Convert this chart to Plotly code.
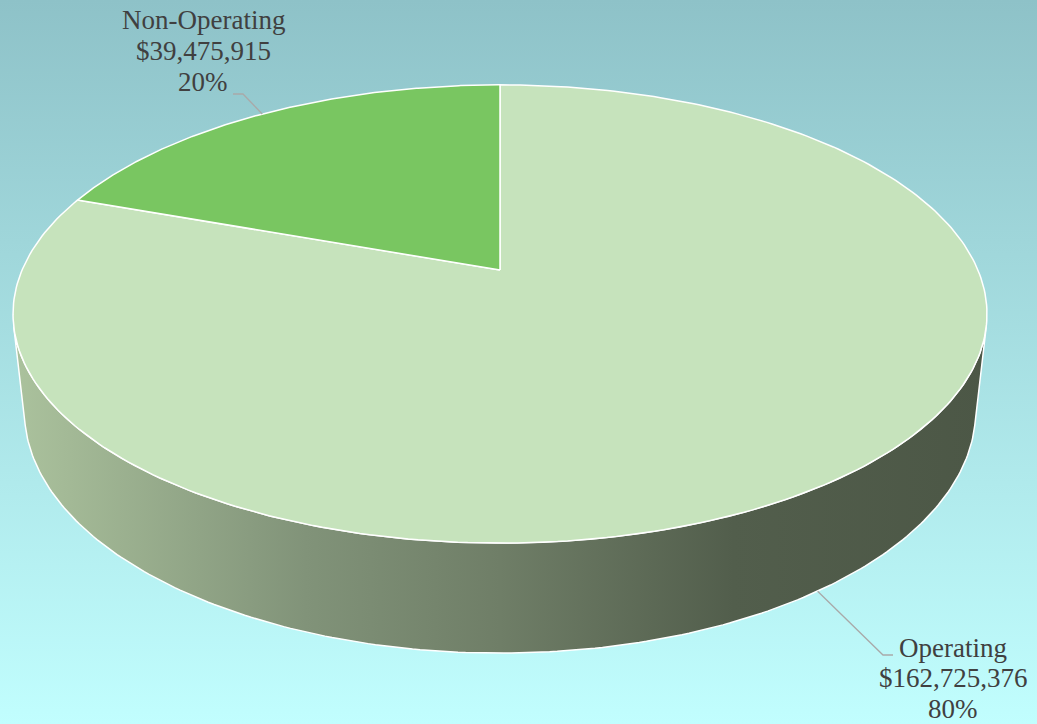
import numpy as np
import plotly.graph_objects as go

# ---------------- data ----------------
categories = ["Operating", "Non-Operating"]
values = [162725376, 39475915]

# ---------------- style ----------------
W, H_PX = 1037, 724
top_colors = {"Operating": "#c6e3bc", "Non-Operating": "#79c661"}
side_scales = {
    "Operating": [[0.0, "#abc29d"], [0.3, "#819379"], [0.5, "#6f7e67"],
                  [0.74, "#525e4c"], [1.0, "#4c5746"]],
    "Non-Operating": [[0.0, "#5f9a4c"], [1.0, "#3c6330"]],
}
bg_top, bg_bottom = "#8ec2c8", "#c1fefe"
text_color = "#404040"
leader_color = "#a9a9a9"
FONT = "Liberation Serif"
FSIZE = 27

# perspective camera for the pie (geometry, not data)
CX, CY = 500.0, 270.0
FOCAL = 2208.0
ALPHA = np.radians(27.5)
DIST = 4.62
THICK = 0.2305


def project(theta_deg, level):
    """level = 0 top face, -THICK bottom face; returns pixel coords."""
    t = np.radians(np.asarray(theta_deg, dtype=float))
    X, Z = np.cos(t), np.sin(t)
    depth = DIST - level * np.sin(ALPHA) + Z * np.cos(ALPHA)
    up = level * np.cos(ALPHA) + Z * np.sin(ALPHA)
    return CX + FOCAL * X / depth, CY - FOCAL * up / depth


total = float(sum(values))
fracs = [v / total for v in values]

# slice angle ranges: clockwise from 12 o'clock (theta decreasing)
ranges = []
start = 90.0
for f in fracs:
    end = start - f * 360.0
    ranges.append((end, start))
    start = end

# visible front side range (silhouette generators)
s = np.degrees(np.arcsin(1.0 / (DIST * np.cos(ALPHA))))
vis_lo, vis_hi = -180.0 + s, -s

fig = go.Figure()

# background gradient
fig.add_trace(go.Scatter(
    x=[0, W, W, 0, 0], y=[0, 0, H_PX, H_PX, 0], mode="lines",
    line=dict(width=0), fill="toself",
    fillgradient=dict(type="vertical", start=0, stop=H_PX,
                      colorscale=[[0, bg_top], [1, bg_bottom]]),
    hoverinfo="skip", showlegend=False))

# sides
for cat, (a0, a1) in zip(categories, ranges):
    lo, hi = max(a0, vis_lo), min(a1, vis_hi)
    if hi <= lo:
        continue
    th = np.linspace(lo, hi, 200)
    xt, yt = project(th, 0.0)
    xb, yb = project(th[::-1], -THICK)
    xs = np.concatenate([xt, xb, xt[:1]])
    ys = np.concatenate([yt, yb, yt[:1]])
    fig.add_trace(go.Scatter(
        x=xs, y=ys, mode="lines", line=dict(color="white", width=1.5),
        fill="toself",
        fillgradient=dict(type="horizontal", start=float(xs.min()),
                          stop=float(xs.max()), colorscale=side_scales[cat]),
        hoverinfo="skip", showlegend=False))

# top faces
for cat, (a0, a1) in zip(categories, ranges):
    th = np.linspace(a0, a1, 300)
    xa, ya = project(th, 0.0)
    xs = np.concatenate([[CX], xa, [CX]])
    ys = np.concatenate([[CY], ya, [CY]])
    fig.add_trace(go.Scatter(
        x=xs, y=ys, mode="lines", line=dict(color="white", width=1.5),
        fill="toself", fillcolor=top_colors[cat],
        hoverinfo="skip", showlegend=False, name=cat))

# labels and leader lines
label_layout = {
    "Non-Operating": dict(x=203, ys=[19.5, 50.5, 82], elbow=[(233, 94), (243, 94)], first=True),
    "Operating": dict(x=953, ys=[648, 678, 709], elbow=[(883, 655), (893, 655)], first=False),
}
for cat, v, f, (a0, a1) in zip(categories, values, fracs, ranges):
    mid = (a0 + a1) / 2.0
    level = -THICK if vis_lo <= mid <= vis_hi else 0.0
    ax_, ay_ = project(mid, level)
    L = label_layout[cat]
    if L["first"]:
        pts = L["elbow"] + [(float(ax_), float(ay_))]
    else:
        pts = [(float(ax_), float(ay_))] + L["elbow"]
    fig.add_trace(go.Scatter(
        x=[p[0] for p in pts], y=[p[1] for p in pts], mode="lines",
        line=dict(color=leader_color, width=1.3),
        hoverinfo="skip", showlegend=False))
    lines = [cat, "${:,}".format(v), "{:.0f}%".format(f * 100)]
    for txt, yy in zip(lines, L["ys"]):
        fig.add_annotation(x=L["x"], y=yy, xref="x", yref="y", text=txt,
                           showarrow=False, xanchor="center", yanchor="middle",
                           font=dict(family=FONT, size=FSIZE, color=text_color))

fig.update_layout(
    width=W, height=H_PX, margin=dict(l=0, r=0, t=0, b=0),
    paper_bgcolor=bg_bottom, plot_bgcolor=bg_bottom,
    xaxis=dict(range=[0, W], visible=False, fixedrange=True),
    yaxis=dict(range=[H_PX, 0], visible=False, fixedrange=True),
    showlegend=False,
)
fig.write_html(
    "out.html",
    config={"displayModeBar": False},
    post_script="document.body.style.margin='0';document.body.style.overflow='hidden';",
)
